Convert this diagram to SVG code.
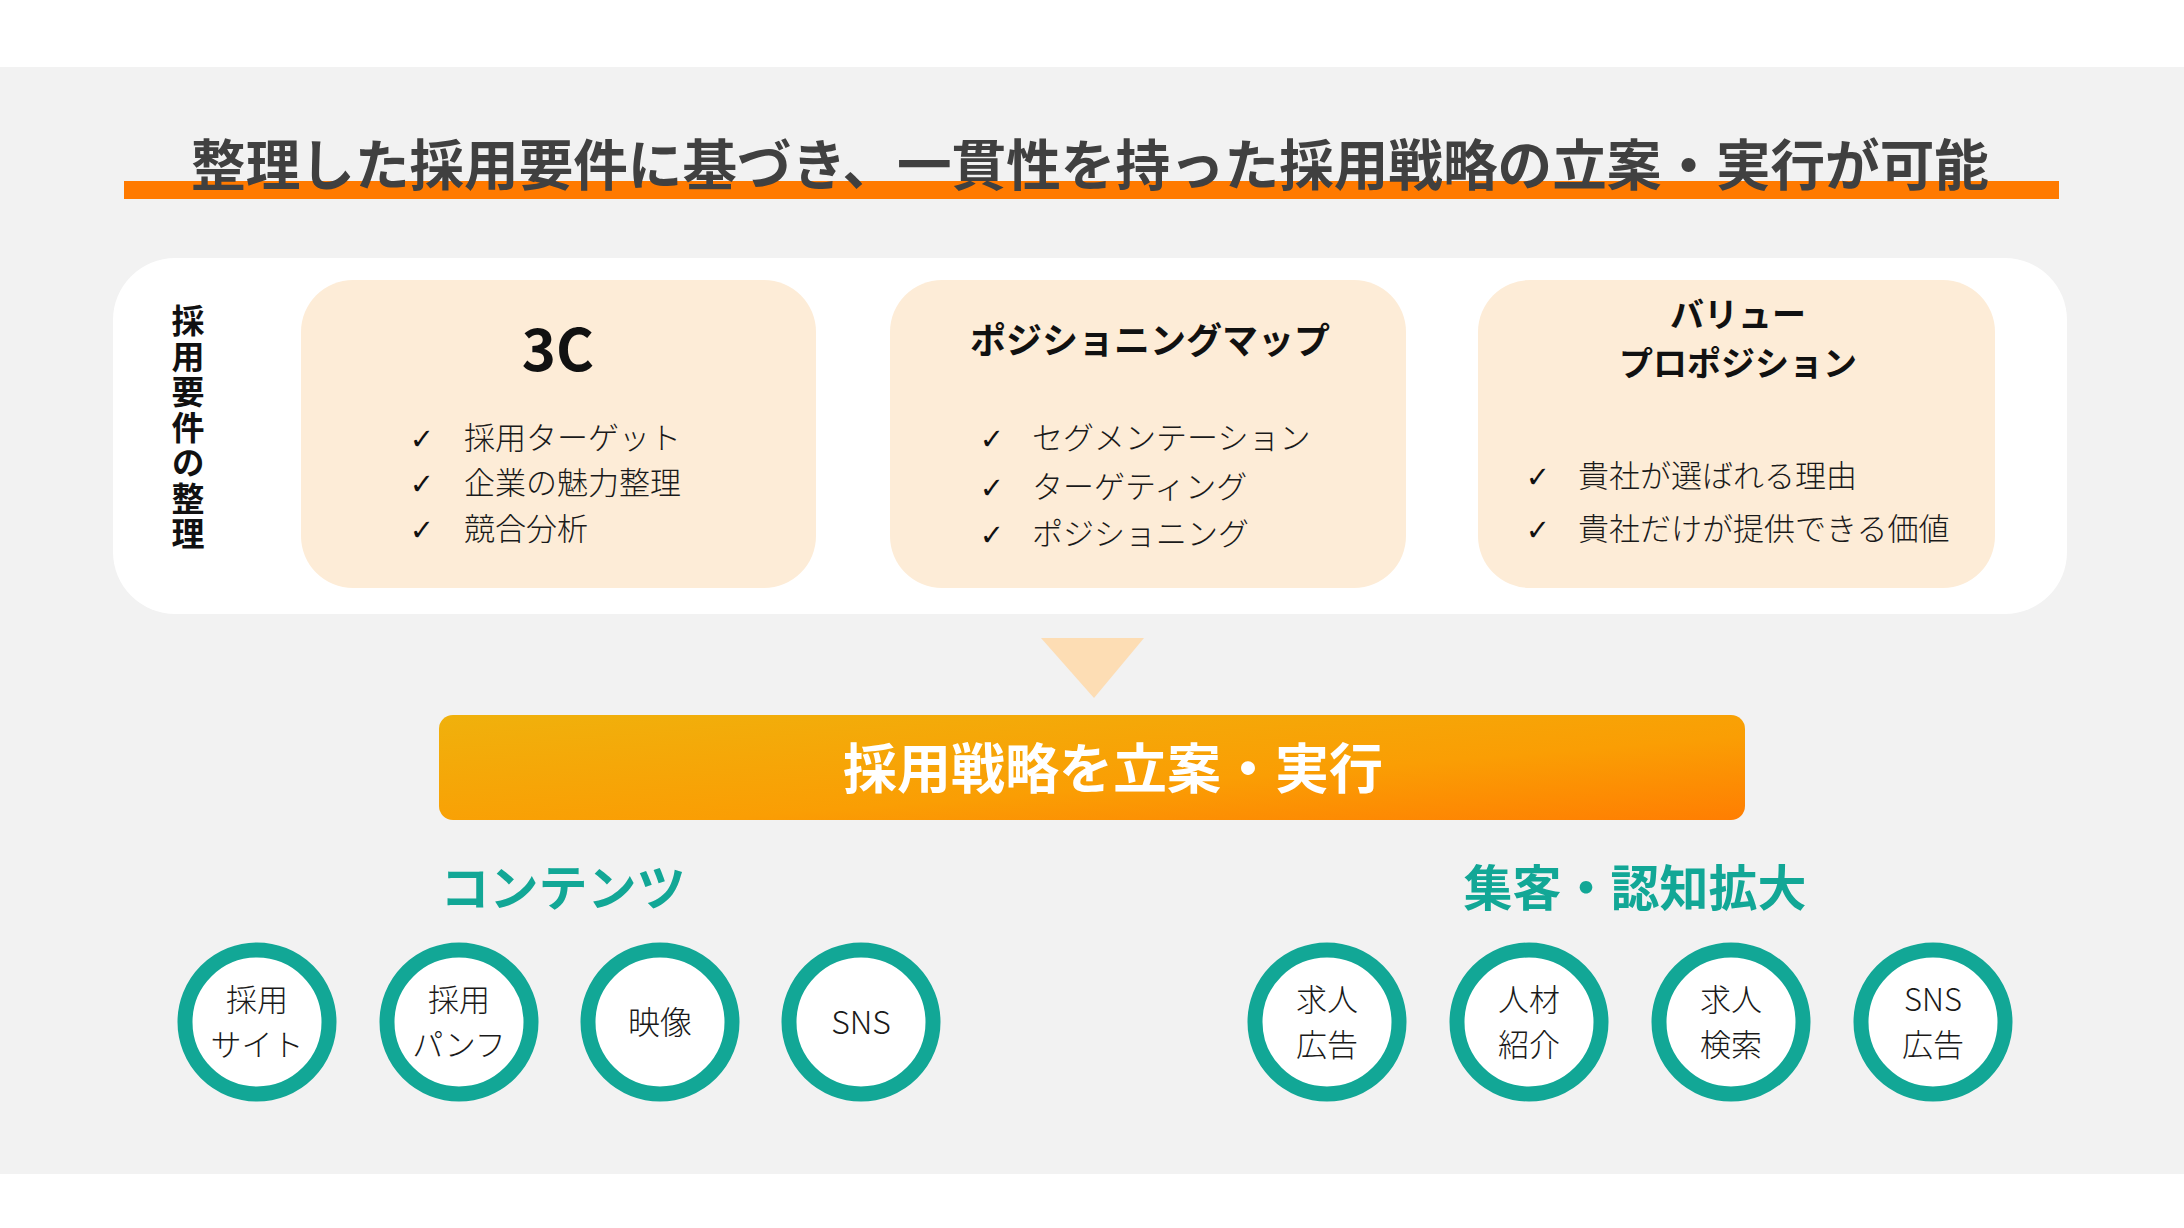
<svg xmlns="http://www.w3.org/2000/svg" width="2184" height="1228" viewBox="0 0 2184 1228">
<defs>
<linearGradient id="gbar" x1="0" y1="0" x2="1" y2="1">
<stop offset="0" stop-color="#F0B10C"/>
<stop offset="0.6" stop-color="#FA9E04"/>
<stop offset="1" stop-color="#FF7E02"/>
</linearGradient>
<style>
text{font-family:"Noto Sans CJK JP","Noto Sans",sans-serif;}
.title{font-size:54.6px;font-weight:700;fill:#404040;}
.card{fill:#FDECD7;}
.ctitle{font-size:36px;font-weight:700;fill:#111;text-anchor:middle;}
.item{font-size:31px;font-weight:300;fill:#1a1a1a;}
.chk{font-family:"DejaVu Sans",sans-serif;font-size:29px;font-weight:700;fill:#111;text-anchor:middle;}
.vlab{font-size:33px;font-weight:700;fill:#111;writing-mode:vertical-rl;letter-spacing:2.5px;}
.head{font-size:49px;font-weight:700;fill:#12A796;text-anchor:middle;}
.ring{fill:#fff;stroke:#12A796;stroke-width:15;}
.ctext{font-size:31px;font-weight:300;fill:#1a1a1a;text-anchor:middle;}
</style>
</defs>
<rect x="0" y="0" width="2184" height="1228" fill="#ffffff"/>
<rect x="0" y="67" width="2184" height="1107" fill="#F2F2F2"/>

<g id="title">
<rect x="124" y="181" width="1935" height="18" fill="#FF7A00"/>
<text class="title" x="1090" y="185" text-anchor="middle">整理した採用要件に基づき、一貫性を持った採用戦略の立案・実行が可能</text>
</g>

<g id="requirements-panel">
<rect x="113" y="258" width="1954" height="356" rx="62" fill="#ffffff"/>
<text class="vlab" x="188" y="304">採用要件の整理</text>
</g>

<g id="card-3c">
<rect class="card" x="301" y="280" width="515" height="308" rx="52"/>
<text x="558" y="371" text-anchor="middle" style="font-size:58px;font-weight:700;fill:#111;">3C</text>
<text class="chk" x="422" y="449">✓</text><text class="item" x="464" y="449">採用ターゲット</text>
<text class="chk" x="422" y="494">✓</text><text class="item" x="464" y="494">企業の魅力整理</text>
<text class="chk" x="422" y="540">✓</text><text class="item" x="464" y="540">競合分析</text>
</g>

<g id="card-positioning">
<rect class="card" x="890" y="280" width="516" height="308" rx="52"/>
<text class="ctitle" x="1150" y="354">ポジショニングマップ</text>
<text class="chk" x="992" y="449">✓</text><text class="item" x="1032" y="449">セグメンテーション</text>
<text class="chk" x="992" y="498">✓</text><text class="item" x="1032" y="498">ターゲティング</text>
<text class="chk" x="992" y="545">✓</text><text class="item" x="1032" y="545">ポジショニング</text>
</g>

<g id="card-value">
<rect class="card" x="1478" y="280" width="517" height="308" rx="52"/>
<text class="ctitle" style="font-size:34px"><tspan x="1738" y="327">バリュー</tspan><tspan x="1738" y="376">プロポジション</tspan></text>
<text class="chk" x="1538" y="487">✓</text><text class="item" x="1578" y="487">貴社が選ばれる理由</text>
<text class="chk" x="1538" y="540">✓</text><text class="item" x="1578" y="540">貴社だけが提供できる価値</text>
</g>

<g id="connectors">
<polygon points="1041,638 1144,638 1094,698" fill="#FDDDB4"/>
</g>

<g id="strategy">
<rect x="439" y="715" width="1306" height="105" rx="14" fill="url(#gbar)"/>
<text x="1113" y="789" text-anchor="middle" style="font-size:54px;font-weight:700;fill:#ffffff;">採用戦略を立案・実行</text>
</g>

<g id="heading-contents"><text class="head" x="563" y="906">コンテンツ</text></g>
<g id="heading-attract"><text class="head" x="1635" y="906">集客・認知拡大</text></g>

<g id="c-site"><circle class="ring" cx="257" cy="1022" r="72"/><text class="ctext"><tspan x="257" y="1011">採用</tspan><tspan x="257" y="1056">サイト</tspan></text></g>
<g id="c-pamph"><circle class="ring" cx="459" cy="1022" r="72"/><text class="ctext"><tspan x="459" y="1011">採用</tspan><tspan x="459" y="1056">パンフ</tspan></text></g>
<g id="c-video"><circle class="ring" cx="660" cy="1022" r="72"/><text class="ctext" style="font-size:32px" x="660" y="1034">映像</text></g>
<g id="c-sns"><circle class="ring" cx="861" cy="1022" r="72"/><text class="ctext" style="font-size:32px" x="861" y="1034">SNS</text></g>

<g id="c-jobad"><circle class="ring" cx="1327" cy="1022" r="72"/><text class="ctext"><tspan x="1327" y="1011">求人</tspan><tspan x="1327" y="1056">広告</tspan></text></g>
<g id="c-agent"><circle class="ring" cx="1529" cy="1022" r="72"/><text class="ctext"><tspan x="1529" y="1011">人材</tspan><tspan x="1529" y="1056">紹介</tspan></text></g>
<g id="c-search"><circle class="ring" cx="1731" cy="1022" r="72"/><text class="ctext"><tspan x="1731" y="1011">求人</tspan><tspan x="1731" y="1056">検索</tspan></text></g>
<g id="c-snsad"><circle class="ring" cx="1933" cy="1022" r="72"/><text class="ctext"><tspan x="1933" y="1011">SNS</tspan><tspan x="1933" y="1056">広告</tspan></text></g>
</svg>
